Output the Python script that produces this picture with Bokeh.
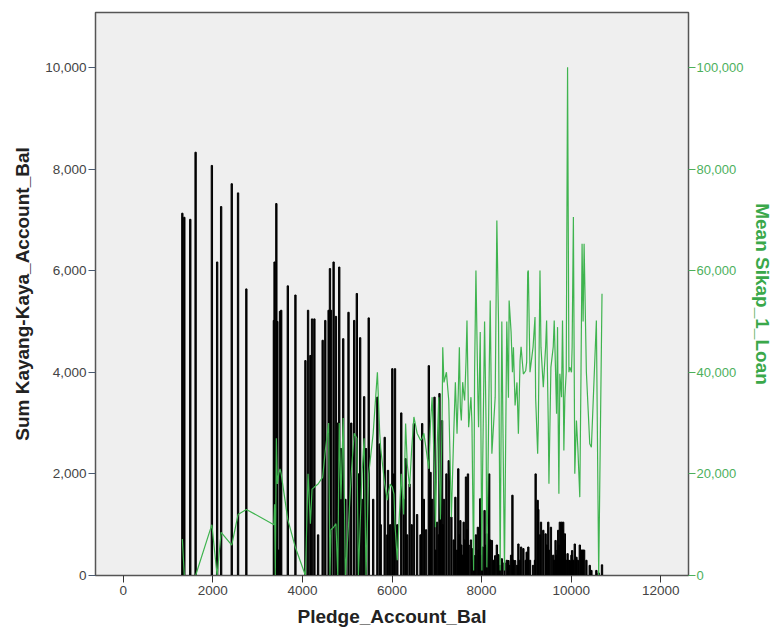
from bokeh.plotting import figure
from bokeh.models import Range1d, LinearAxis, FixedTicker, NumeralTickFormatter, ColumnDataSource
from bokeh.embed import file_html
from bokeh.resources import INLINE

# Pledge_Account_Bal (x), Sum Kayang-Kaya_Account_Bal (bars), Mean Sikap_1_Loan (line)
pledge = [1319, 1363, 1496, 1615, 1978, 2096, 2185, 2422, 2563, 2748,
          3363, 3378, 3395, 3418, 3440, 3470, 3500, 3526, 3674, 3844,
          4067, 4126, 4178, 4215, 4267, 4350, 4452, 4511, 4585, 4615,
          4637, 4696, 4748, 4790, 4822, 4860, 4911, 4960, 5029, 5090,
          5156, 5215, 5250, 5289, 5330, 5378, 5420, 5480, 5580, 5674,
          5726, 5748, 5837, 5896, 5911, 5960, 6007, 6044, 6067, 6118,
          6207, 6260, 6304, 6340, 6393, 6440, 6489, 6560, 6637, 6674,
          6711, 6760, 6822, 6860, 6896, 6949, 6970, 7007, 7044, 7060,
          7081, 7118, 7133, 7160, 7215, 7267, 7326, 7378, 7415, 7452,
          7480, 7504, 7526, 7548, 7578, 7600, 7622, 7652, 7674, 7696,
          7711, 7763, 7785, 7822, 7844, 7874, 7918, 7933, 7970, 8007,
          8022, 8067, 8100, 8118, 8170, 8193, 8230, 8270, 8304, 8341,
          8378, 8415, 8452, 8511, 8563, 8600, 8615, 8659, 8689, 8711,
          8748, 8790, 8822, 8859, 8882, 8933, 8985, 9007, 9030, 9044,
          9081, 9150, 9193, 9207, 9252, 9267, 9304, 9326, 9378, 9430,
          9452, 9489, 9504, 9548, 9600, 9622, 9652, 9674, 9696, 9711,
          9726, 9748, 9785, 9807, 9822, 9837, 9859, 9890, 9920, 9950,
          9970, 10007, 10022, 10050, 10081, 10118, 10150, 10193, 10220, 10244,
          10267, 10289, 10340, 10415, 10452, 10563, 10615, 10689]

kaya_sum = [7130, 7050, 7010, 8330, 8070, 6170, 7260, 7710, 7530, 5640,
            5020, 6170, 1000, 7320, 5000, 500, 5200, 5220, 5700, 5520,
            4230, 5220, 4330, 5050, 5050, 800, 4630, 5020, 5220, 6040,
            5220, 6170, 5100, 3000, 6070, 2500, 4660, 1500, 5180, 3000,
            5020, 5550, 2000, 4680, 1500, 3520, 2500, 5070, 1500, 3510,
            2590, 1000, 2720, 800, 2070, 1000, 4070, 2000, 4070, 1000,
            3200, 1500, 2300, 800, 1800, 1000, 2990, 1200, 800, 2990,
            1500, 900, 4130, 2030, 1500, 3510, 500, 1050, 800, 3580,
            1200, 3050, 1000, 1500, 2000, 2260, 1150, 700, 1540, 500,
            2100, 800, 1080, 600, 400, 1050, 700, 1940, 900, 2000,
            600, 700, 530, 300, 390, 800, 950, 500, 1510, 400,
            560, 1280, 600, 820, 2000, 700, 690, 300, 390, 600,
            410, 200, 330, 250, 300, 295, 200, 400, 1580, 300,
            295, 200, 620, 300, 560, 530, 300, 460, 300, 560,
            300, 200, 300, 2000, 1480, 1300, 800, 1050, 890, 820,
            600, 1050, 500, 950, 400, 300, 690, 400, 500, 890,
            600, 1050, 1050, 900, 1050, 700, 820, 300, 430, 300,
            295, 400, 490, 300, 620, 360, 300, 600, 500, 500,
            500, 500, 300, 200, 100, 100, 50, 210]

loan_mean = [7200, 0, 0, 0, 10000, 0, 8500, 6000, 12000, 13000,
             10000, 14000, 0, 27000, 18000, 20000, 21000, 20000, 11000, 5500,
             0, 20000, 10200, 17000, 17400, 18000, 19350, 24600, 30000, 0,
             9000, 9500, 10200, 0, 30000, 15000, 31000, 0, 10000, 20000,
             28000, 27000, 0, 10000, 20000, 27000, 0, 20000, 28000, 40000,
             28000, 25000, 18000, 14800, 16000, 18000, 17400, 16000, 10000, 3000,
             20000, 12000, 29900, 22000, 17400, 25000, 31200, 28000, 26600, 27000,
             28000, 25000, 21000, 30000, 35100, 20000, 9500, 25000, 35100, 20000,
             11000, 30000, 44900, 38000, 40000, 34450, 11480, 27890, 38050, 27890,
             36000, 44940, 33000, 30510, 38050, 36000, 34450, 42000, 50200, 38000,
             29200, 35100, 30000, 1000, 40000, 60040, 35000, 29200, 47900, 1000,
             20000, 50000, 30000, 1600, 40000, 54130, 23950, 30000, 35100, 69880,
             50000, 1000, 50000, 1000, 50000, 35000, 54130, 47900, 40000, 44940,
             33460, 38000, 27890, 42260, 45000, 39650, 40300, 42000, 59710, 60040,
             40020, 45000, 50850, 35000, 23950, 30000, 60040, 44940, 37070, 45000,
             50200, 30000, 18050, 41000, 45000, 50200, 40000, 31830, 48880, 30000,
             16080, 39700, 35100, 50200, 40000, 24600, 35000, 40000, 100000, 40000,
             41000, 40000, 45000, 70530, 20010, 30510, 25000, 15420, 40000, 65300,
             50000, 65300, 40000, 25930, 25250, 50200, 0, 55450]

x_ticks = [0, 2000, 4000, 6000, 8000, 10000, 12000]
left_ticks = [0, 2000, 4000, 6000, 8000, 10000]
right_ticks = [0, 20000, 40000, 60000, 80000, 100000]

src = ColumnDataSource(dict(x=pledge, top=kaya_sum, loan=loan_mean))

p = figure(width=776, height=632, output_backend="svg", toolbar_location=None,
           x_range=Range1d(-620, 12620), y_range=Range1d(0, 11080))
p.min_border_left = 95
p.min_border_right = 86
p.min_border_top = 12
p.min_border_bottom = 57
p.background_fill_color = "#efefef"
p.border_fill_color = "white"
p.outline_line_color = "#555555"
p.outline_line_width = 1.5
p.xgrid.visible = False
p.ygrid.visible = False

p.extra_y_ranges = {"loan": Range1d(0, 110800)}

p.vbar(x="x", top="top", bottom=0, width=30, source=src, color="black")
p.line(x="x", y="loan", source=src, y_range_name="loan", line_color="#3fb44f", line_width=1.2)

AX_FONT = "Liberation Sans"
TICK_SIZE = "13.5px"
TITLE_SIZE = "19px"

xa = p.xaxis[0]
xa.ticker = FixedTicker(ticks=x_ticks)
xa.axis_label = "Pledge_Account_Bal"
xa.axis_label_text_font = AX_FONT
xa.axis_label_text_font_style = "bold"
xa.axis_label_text_font_size = TITLE_SIZE
xa.axis_label_text_color = "#222222"
xa.axis_label_standoff = 8
xa.major_label_text_font = AX_FONT
xa.major_label_text_font_size = TICK_SIZE
xa.major_label_text_color = "#444444"
xa.major_label_standoff = 3
xa.major_tick_out = 7
xa.major_tick_in = 0
xa.minor_tick_out = 0
xa.minor_tick_in = 0
xa.axis_line_color = "#555555"
xa.major_tick_line_color = "#333333"

ya = p.yaxis[0]
ya.ticker = FixedTicker(ticks=left_ticks)
ya.formatter = NumeralTickFormatter(format="0,0")
ya.axis_label = "Sum Kayang-Kaya_Account_Bal"
ya.axis_label_text_font = AX_FONT
ya.axis_label_text_font_style = "bold"
ya.axis_label_text_font_size = TITLE_SIZE
ya.axis_label_text_color = "#222222"
ya.axis_label_standoff = 9
ya.major_label_text_font = AX_FONT
ya.major_label_text_font_size = TICK_SIZE
ya.major_label_text_color = "#444444"
ya.major_label_standoff = 2
ya.major_tick_out = 7
ya.major_tick_in = 0
ya.minor_tick_out = 0
ya.minor_tick_in = 0
ya.axis_line_color = "#555555"
ya.major_tick_line_color = "#4a5a70"

ra = LinearAxis(y_range_name="loan", ticker=FixedTicker(ticks=right_ticks),
                formatter=NumeralTickFormatter(format="0,0"))
ra.axis_label = "Mean Sikap_1_Loan"
ra.axis_label_text_font = AX_FONT
ra.axis_label_text_font_style = "bold"
ra.axis_label_text_font_size = TITLE_SIZE
ra.axis_label_text_color = "#3aa84a"
ra.axis_label_standoff = 6
ra.major_label_text_font = AX_FONT
ra.major_label_text_font_size = "13px"
ra.major_label_text_color = "#4cb05c"
ra.major_label_standoff = 1
ra.major_tick_out = 7
ra.major_tick_in = 0
ra.minor_tick_out = 0
ra.minor_tick_in = 0
ra.axis_line_color = "#555555"
ra.major_tick_line_color = "#4cb05c"
p.add_layout(ra, "right")

open("out.html", "w").write(file_html(p, INLINE))
